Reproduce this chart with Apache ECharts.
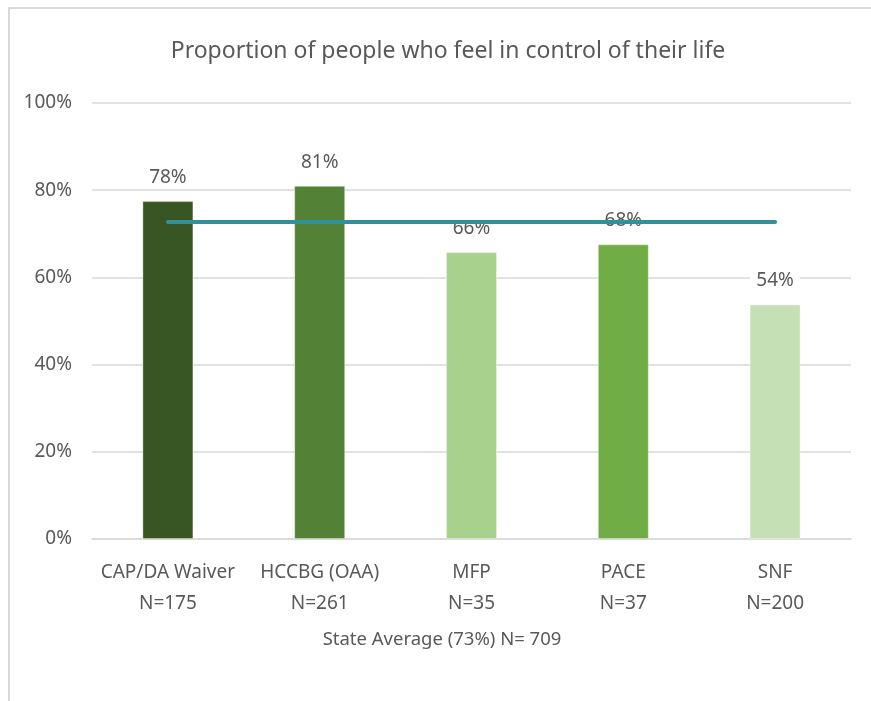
<!DOCTYPE html>
<html>
<head>
<meta charset="utf-8">
<script src="https://cdn.jsdelivr.net/npm/echarts@6/dist/echarts.min.js"></script>
<style>
html, body { margin: 0; padding: 0; background: #fff; }
#frame { position: absolute; left: 8px; top: 7px; width: 863px; height: 694px; border-left: 2px solid #d9d9d9; border-top: 2px solid #d9d9d9; box-sizing: border-box; }
#echar { position: absolute; left: 0; top: 0; width: 871px; height: 701px; }
</style>
</head>
<body>
<div id="frame"></div>
<div id="echar"></div>
<script>
var categories = ['CAP/DA Waiver\nN=175', 'HCCBG (OAA)\nN=261', 'MFP\nN=35', 'PACE\nN=37', 'SNF\nN=200'];
var values = [77.5, 81, 65.8, 67.6, 53.8];
var barColors = ['#375623', '#538135', '#a9d18e', '#70ad47', '#c5e0b4'];
var stateAverage = 72.7;
var yTicks = [0, 20, 40, 60, 80, 100];

var font = 'Noto Sans';
var textColor = '#595959';

var myChart = echarts.init(document.getElementById('echar'));

var option = {
	animation: false,
	title: [{
		text: 'Proportion of people who feel in control of their life',
		left: 443,
		top: 35,
		textAlign: 'center',
		textStyle: { fontFamily: font, fontSize: 23, fontWeight: 'normal', color: textColor }
	}, {
		text: 'State Average (73%) N= 709',
		left: 437,
		top: 625,
		textAlign: 'center',
		textStyle: { fontFamily: font, fontSize: 18.5, fontWeight: 'normal', color: textColor }
	}],
	grid: { left: 92, right: 20, top: 103, bottom: 162 },
	xAxis: {
		type: 'category',
		data: categories,
		axisLine: { lineStyle: { color: '#d9d9d9', width: 1.5 } },
		axisTick: { show: false },
		axisLabel: { interval: 0, fontFamily: font, fontSize: 19, color: textColor, lineHeight: 31, margin: 18 }
	},
	yAxis: {
		type: 'value',
		min: yTicks[0],
		max: yTicks[yTicks.length - 1],
		interval: 20,
		axisLine: { show: false },
		axisTick: { show: false },
		splitLine: { lineStyle: { color: '#d9d9d9', width: 1.5 } },
		axisLabel: { fontFamily: font, fontSize: 19, color: textColor, margin: 20, formatter: '{value}%' }
	},
	series: [{
		type: 'bar',
		barWidth: '33.6%',
		z: 2,
		data: values.map(function (v, i) {
			return { value: v, itemStyle: { color: barColors[i], borderColor: 'rgba(255,255,255,0.35)', borderWidth: 1 } };
		}),
		label: {
			show: true,
			position: 'top',
			distance: 12,
			fontFamily: font,
			fontSize: 19,
			color: textColor,
			backgroundColor: '#fff',
			padding: [2, 6],
			formatter: function (p) { return Math.round(p.value) + '%'; }
		}
	}, {
		type: 'line',
		z: 5,
		data: categories.map(function () { return stateAverage; }),
		symbol: 'none',
		lineStyle: { color: '#31919a', width: 4, cap: 'round' }
	}]
};

myChart.setOption(option);
</script>
</body>
</html>
